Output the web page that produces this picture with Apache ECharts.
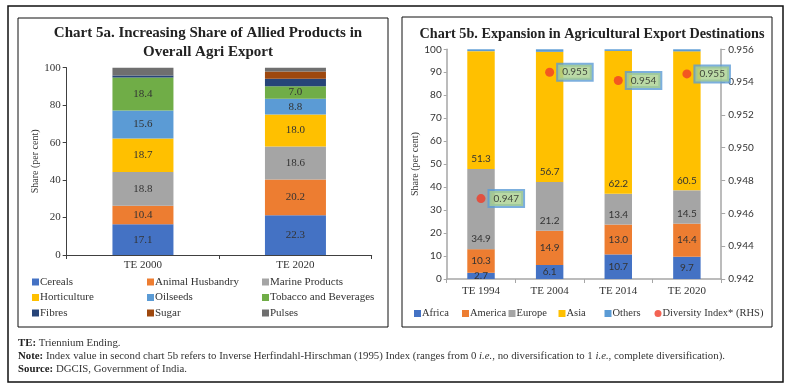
<!DOCTYPE html>
<html><head><meta charset="utf-8">
<script src="https://cdn.jsdelivr.net/npm/echarts@6/dist/echarts.min.js"></script>
<style>html,body{margin:0;padding:0;background:#fff}#c{width:789px;height:390px}</style>
</head><body><div id="c"></div>
<script>
// ---- Chart 5a data (raw shares, stacked to 100%) ----
const cat5a = ['TE 2000', 'TE 2020'];
const cereals  = [17.1, 22.3];
const animal   = [10.4, 20.2];
const marine   = [18.8, 18.6];
const horti    = [18.7, 18.0];
const oilseeds = [15.6, 8.8];
const tobacco  = [18.4, 7.0];
const fibres   = [1.1, 4.3];
const sugar    = [0.0, 4.0];
const pulses   = [4.3, 2.2];
// ---- Chart 5b data ----
const cat5b = ['TE 1994', 'TE 2004', 'TE 2014', 'TE 2020'];
const africa  = [2.7, 6.1, 10.7, 9.7];
const america = [10.3, 14.9, 13.0, 14.4];
const europe  = [34.9, 21.2, 13.4, 14.5];
const asia    = [51.3, 56.7, 62.2, 60.5];
const others  = [0.8, 1.1, 0.7, 0.9];
const diversity = [0.9469, 0.9546, 0.9541, 0.9545];

const SERIF = '"Liberation Serif", "DejaVu Serif", serif';
const SANS = 'Lato, "Open Sans", sans-serif';

const series5a = [
  ['Cereals', cereals, '#4472C4', true],
  ['Animal Husbandry', animal, '#ED7D31', true],
  ['Marine Products', marine, '#A5A5A5', true],
  ['Horticulture', horti, '#FFC000', true],
  ['Oilseeds', oilseeds, '#5B9BD5', true],
  ['Tobacco and Beverages', tobacco, '#70AD47', true],
  ['Fibres', fibres, '#264478', false],
  ['Sugar', sugar, '#9E480E', false],
  ['Pulses', pulses, '#6F6F6F', false]
];
const totals5a = cat5a.map((_, i) => series5a.reduce((s, r) => s + r[1][i], 0));

const chart = echarts.init(document.getElementById('c'), null, {renderer: 'canvas'});

const series = [];
series5a.forEach(([name, vals, color, lab]) => {
  series.push({
    name, type: 'bar', stack: 'a', xAxisIndex: 0, yAxisIndex: 0,
    barWidth: '40%', itemStyle: {color},
    data: vals.map((v, i) => ({value: v / totals5a[i] * 100, raw: v})),
    label: {show: lab, position: 'inside', fontFamily: SERIF, fontSize: 11, color: '#333',
      formatter: p => p.data.raw.toFixed(1)}
  });
});
const series5b = [
  ['Africa', africa, '#4472C4', 'inside'],
  ['America', america, '#ED7D31', 'inside'],
  ['Europe', europe, '#A5A5A5', 'insideBottom'],
  ['Asia', asia, '#FFC000', 'insideBottom'],
  ['Others', others, '#5B9BD5', null]
];
series5b.forEach(([name, vals, color, pos]) => {
  series.push({
    name, type: 'bar', stack: 'b', xAxisIndex: 1, yAxisIndex: 1,
    barWidth: '40%', itemStyle: {color}, data: vals,
    label: {show: !!pos, position: pos || 'inside', distance: 5, fontFamily: SANS, fontSize: 10, color: '#333',
      formatter: p => p.value.toFixed(1)}
  });
});
series.push({
  name: 'Diversity Index* (RHS)', type: 'scatter', xAxisIndex: 1, yAxisIndex: 2,
  symbolSize: 9, itemStyle: {color: '#F03C28'}, data: diversity, z: 5,
  label: {show: true, position: 'right', distance: 4, fontFamily: SANS, fontSize: 10, color: '#222',
    backgroundColor: '#A9D08E', borderColor: '#5B9BD5', borderWidth: 2, padding: [3, 4, 2, 4],
    formatter: p => p.value.toFixed(3)}
});

const legItem = {itemWidth: 7, itemHeight: 7, icon: 'rect',
  textStyle: {fontFamily: SERIF, fontSize: 11, color: '#333', lineHeight: 12, padding: [0, 0, 0, -4]}};
const legends = [
  {left: 27, top: 271, orient: 'vertical', itemGap: 3.5, data: ['Cereals', 'Horticulture', 'Fibres']},
  {left: 142, top: 271, orient: 'vertical', itemGap: 3.5, data: ['Animal Husbandry', 'Oilseeds', 'Sugar']},
  {left: 257, top: 271, orient: 'vertical', itemGap: 3.5, data: ['Marine Products', 'Tobacco and Beverages', 'Pulses']}
].map(l => Object.assign({}, legItem, l));
const leg5b = [['Africa', 409], ['America', 457], ['Europe', 503.5], ['Asia', 553.5], ['Others', 599.5], ['Diversity Index* (RHS)', 649.5]];
leg5b.forEach(([n, x], k) => {
  legends.push(Object.assign({}, legItem, {left: x, top: 302.5, data: [n], icon: k === 5 ? 'circle' : 'rect',
    textStyle: Object.assign({}, legItem.textStyle, {fontSize: 10.5})}));
});

chart.setOption({
  animation: false,
  title: [
    {text: 'Chart 5a. Increasing Share of Allied Products in\nOverall Agri Export', left: 203, top: 19, textAlign: 'center',
      textStyle: {fontFamily: SERIF, fontWeight: 'bold', fontSize: 15, lineHeight: 18.6, color: '#222'}},
    {text: 'Chart 5b. Expansion in Agricultural Export Destinations', left: 587, top: 20, textAlign: 'center',
      textStyle: {fontFamily: SERIF, fontWeight: 'bold', fontSize: 14.2, lineHeight: 18.6, color: '#222'}}
  ],
  legend: legends,
  grid: [
    {left: 66.7, top: 67.7, width: 305, height: 187.3},
    {left: 446.7, top: 49.3, width: 274.5, height: 229.7}
  ],
  xAxis: [
    {type: 'category', gridIndex: 0, data: cat5a,
      axisLine: {lineStyle: {color: '#404040', width: 1}},
      axisTick: {show: true, length: 4, lineStyle: {color: '#404040'}},
      axisLabel: {fontFamily: SERIF, fontSize: 11, color: '#333', margin: 5}},
    {type: 'category', gridIndex: 1, data: cat5b,
      axisLine: {lineStyle: {color: '#A6A6A6', width: 1.5}},
      axisTick: {show: true, length: 4, lineStyle: {color: '#A6A6A6'}},
      axisLabel: {fontFamily: SERIF, fontSize: 11, color: '#333', margin: 7}}
  ],
  yAxis: [
    {type: 'value', gridIndex: 0, min: 0, max: 100, interval: 20, splitLine: {show: false},
      name: 'Share (per cent)', nameLocation: 'middle', nameGap: 26,
      nameTextStyle: {fontFamily: SERIF, fontSize: 10, color: '#333'},
      axisLine: {show: true, lineStyle: {color: '#404040'}},
      axisTick: {show: true, length: 4, lineStyle: {color: '#404040'}},
      axisLabel: {fontFamily: SERIF, fontSize: 11, color: '#333', margin: 6}},
    {type: 'value', gridIndex: 1, min: 0, max: 100, interval: 10, splitLine: {show: false},
      name: 'Share (per cent)', nameLocation: 'middle', nameGap: 17,
      nameTextStyle: {fontFamily: SERIF, fontSize: 10, color: '#333'},
      axisLine: {show: true, lineStyle: {color: '#A6A6A6', width: 1.5}},
      axisTick: {show: true, length: 3, lineStyle: {color: '#A6A6A6'}},
      axisLabel: {fontFamily: SANS, fontSize: 10, color: '#333', margin: 5}},
    {type: 'value', gridIndex: 1, position: 'right', min: 0.942, max: 0.956, interval: 0.002, splitLine: {show: false},
      axisLine: {show: true, lineStyle: {color: '#A6A6A6', width: 1.5}},
      axisTick: {show: true, length: 4, lineStyle: {color: '#A6A6A6'}},
      axisLabel: {fontFamily: SANS, fontSize: 10, color: '#333', margin: 7, formatter: v => v.toFixed(3)}}
  ],
  graphic: [
    {type: 'rect', shape: {x: 8, y: 6, width: 775, height: 376}, style: {fill: 'none', stroke: '#111', lineWidth: 1.5}, silent: true},
    {type: 'rect', shape: {x: 18, y: 18, width: 370, height: 309}, style: {fill: 'none', stroke: '#111', lineWidth: 1}, silent: true},
    {type: 'rect', shape: {x: 402, y: 17, width: 370, height: 310}, style: {fill: 'none', stroke: '#111', lineWidth: 1}, silent: true},
    {type: 'text', x: 18, y: 337.5, style: {text: '{b|TE:} Triennium Ending.', font: '10.8px ' + SERIF, fill: '#333',
      rich: {b: {fontWeight: 'bold', fontFamily: SERIF, fontSize: 10.8, fill: '#222'}}}},
    {type: 'text', x: 18, y: 350.5, style: {text: '{b|Note:} Index value in second chart 5b refers to Inverse Herfindahl-Hirschman (1995) Index (ranges from 0 {i|i.e.}, no diversification to 1 {i|i.e.}, complete diversification).',
      font: '10.8px ' + SERIF, fill: '#333',
      rich: {b: {fontWeight: 'bold', fontFamily: SERIF, fontSize: 10.8, fill: '#222'}, i: {fontStyle: 'italic', fontFamily: SERIF, fontSize: 10.8, fill: '#333'}}}},
    {type: 'text', x: 18, y: 363.5, style: {text: '{b|Source:} DGCIS, Government of India.', font: '10.8px ' + SERIF, fill: '#333',
      rich: {b: {fontWeight: 'bold', fontFamily: SERIF, fontSize: 10.8, fill: '#222'}}}}
  ],
  series
});
</script></body></html>
